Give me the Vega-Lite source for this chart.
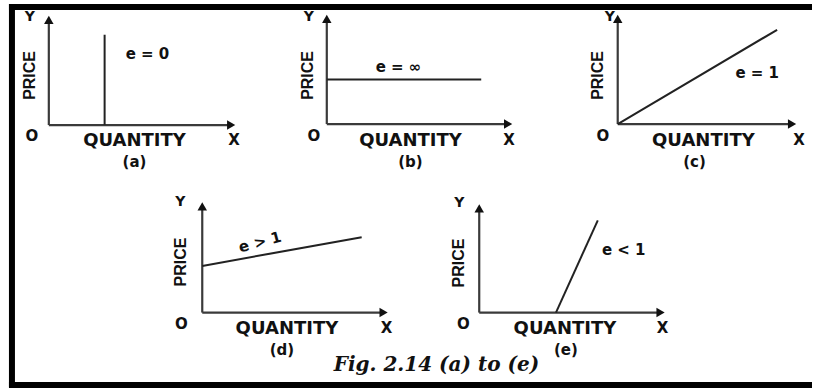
{
  "$schema": "https://vega.github.io/schema/vega-lite/v6.json",
  "width": 815,
  "height": 390,
  "autosize": {"type": "fit", "contains": "padding"},
  "padding": 0,
  "background": "white",
  "config": {"view": {"stroke": null}},
  "encoding": {
    "x": {"field": "x", "type": "quantitative", "scale": {"domain": [0, 815], "nice": false, "zero": false}, "axis": null},
    "y": {"field": "y", "type": "quantitative", "scale": {"domain": [0, 390], "nice": false, "zero": false, "reverse": true}, "axis": null}
  },
  "layer": [
    {
      "data": {"values": [
        {"x": 9, "y": 7, "x2": 815, "y2": 7},
        {"x": 12, "y": 4, "x2": 12, "y2": 390},
        {"x": 9, "y": 388, "x2": 815, "y2": 388}
      ]},
      "mark": {"type": "rule", "color": "#000", "strokeWidth": 6},
      "encoding": {"x2": {"field": "x2"}, "y2": {"field": "y2"}}
    },
    {
      "data": {"values": [
        {"x": 49, "y": 20, "x2": 49, "y2": 126},
        {"x": 49, "y": 126, "x2": 232, "y2": 126},
        {"x": 328, "y": 19, "x2": 328, "y2": 125},
        {"x": 328, "y": 125, "x2": 510, "y2": 125},
        {"x": 620, "y": 19, "x2": 620, "y2": 125},
        {"x": 620, "y": 125, "x2": 795, "y2": 125},
        {"x": 203, "y": 208, "x2": 203, "y2": 315},
        {"x": 203, "y": 315, "x2": 385, "y2": 315},
        {"x": 481, "y": 210, "x2": 481, "y2": 315},
        {"x": 481, "y": 315, "x2": 663, "y2": 315}
      ]},
      "mark": {"type": "rule", "color": "#3a3a3a", "strokeWidth": 2.2},
      "encoding": {"x2": {"field": "x2"}, "y2": {"field": "y2"}}
    },
    {
      "data": {"values": [
        {"x": 105, "y": 35, "x2": 105, "y2": 126},
        {"x": 328, "y": 80, "x2": 483, "y2": 80},
        {"x": 620, "y": 125, "x2": 780, "y2": 30},
        {"x": 203, "y": 268, "x2": 363, "y2": 239},
        {"x": 558, "y": 315, "x2": 600, "y2": 222}
      ]},
      "mark": {"type": "rule", "color": "#222", "strokeWidth": 2},
      "encoding": {"x2": {"field": "x2"}, "y2": {"field": "y2"}}
    },
    {
      "data": {"values": [
        {"x": 49, "y": 20}, {"x": 328, "y": 19}, {"x": 620, "y": 19}, {"x": 203, "y": 208}, {"x": 481, "y": 210}
      ]},
      "mark": {"type": "point", "shape": "triangle-up", "filled": true, "fill": "#111", "stroke": null, "size": 90, "opacity": 1, "clip": false}
    },
    {
      "data": {"values": [
        {"x": 232, "y": 126}, {"x": 510, "y": 125}, {"x": 795, "y": 125}, {"x": 385, "y": 315}, {"x": 663, "y": 315}
      ]},
      "mark": {"type": "point", "shape": "triangle-right", "filled": true, "fill": "#111", "stroke": null, "size": 90, "opacity": 1, "clip": false}
    },
    {
      "data": {"values": [
        {"x": 30, "y": 17, "t": "Y"}, {"x": 310, "y": 17, "t": "Y"}, {"x": 612, "y": 17, "t": "Y"},
        {"x": 181, "y": 204, "t": "Y"}, {"x": 461, "y": 205, "t": "Y"}
      ]},
      "mark": {"type": "text", "font": "DejaVu Sans", "fontWeight": "bold", "fontSize": 14, "align": "center", "baseline": "middle", "color": "#111"},
      "encoding": {"text": {"field": "t"}}
    },
    {
      "data": {"values": [
        {"x": 32, "y": 137, "t": "O"}, {"x": 235, "y": 141, "t": "X"},
        {"x": 315, "y": 137, "t": "O"}, {"x": 511, "y": 141, "t": "X"},
        {"x": 605, "y": 137, "t": "O"}, {"x": 802, "y": 141, "t": "X"},
        {"x": 182, "y": 327, "t": "O"}, {"x": 388, "y": 331, "t": "X"},
        {"x": 465, "y": 327, "t": "O"}, {"x": 665, "y": 331, "t": "X"}
      ]},
      "mark": {"type": "text", "font": "DejaVu Sans", "fontWeight": "bold", "fontSize": 15, "align": "center", "baseline": "middle", "color": "#111"},
      "encoding": {"text": {"field": "t"}}
    },
    {
      "data": {"values": [
        {"x": 135, "y": 142, "t": "QUANTITY"},
        {"x": 412, "y": 142, "t": "QUANTITY"},
        {"x": 706, "y": 142, "t": "QUANTITY"},
        {"x": 288, "y": 332, "t": "QUANTITY"},
        {"x": 567, "y": 332, "t": "QUANTITY"}
      ]},
      "mark": {"type": "text", "font": "DejaVu Sans", "fontWeight": "bold", "fontSize": 18, "align": "center", "baseline": "middle", "color": "#111"},
      "encoding": {"text": {"field": "t"}}
    },
    {
      "data": {"values": [
        {"x": 135, "y": 163, "t": "(a)"},
        {"x": 412, "y": 163, "t": "(b)"},
        {"x": 697, "y": 163, "t": "(c)"},
        {"x": 283, "y": 353, "t": "(d)"},
        {"x": 568, "y": 353, "t": "(e)"},
        {"x": 148, "y": 54, "t": "e = 0"},
        {"x": 400, "y": 68, "t": "e = ∞"},
        {"x": 760, "y": 74, "t": "e = 1"},
        {"x": 626, "y": 252, "t": "e < 1"}
      ]},
      "mark": {"type": "text", "font": "DejaVu Sans", "fontWeight": "bold", "fontSize": 15, "align": "center", "baseline": "middle", "color": "#111"},
      "encoding": {"text": {"field": "t"}}
    },
    {
      "data": {"values": [
        {"x": 261, "y": 244, "t": "e > 1"}
      ]},
      "mark": {"type": "text", "font": "DejaVu Sans", "fontWeight": "bold", "fontSize": 15, "angle": 345, "align": "center", "baseline": "middle", "color": "#111"},
      "encoding": {"text": {"field": "t"}}
    },
    {
      "data": {"values": [
        {"x": 30, "y": 76, "t": "PRICE"},
        {"x": 309, "y": 76, "t": "PRICE"},
        {"x": 600, "y": 76, "t": "PRICE"},
        {"x": 182, "y": 264, "t": "PRICE"},
        {"x": 461, "y": 265, "t": "PRICE"}
      ]},
      "mark": {"type": "text", "font": "Liberation Sans", "fontWeight": "bold", "fontSize": 16, "angle": 270, "align": "center", "baseline": "middle", "color": "#111"},
      "encoding": {"text": {"field": "t"}}
    },
    {
      "data": {"values": [
        {"x": 438, "y": 368, "t": "Fig. 2.14 (a) to (e)"}
      ]},
      "mark": {"type": "text", "font": "DejaVu Serif", "fontStyle": "italic", "fontWeight": "bold", "fontSize": 20, "align": "center", "baseline": "middle", "color": "#111"},
      "encoding": {"text": {"field": "t"}}
    }
  ]
}
